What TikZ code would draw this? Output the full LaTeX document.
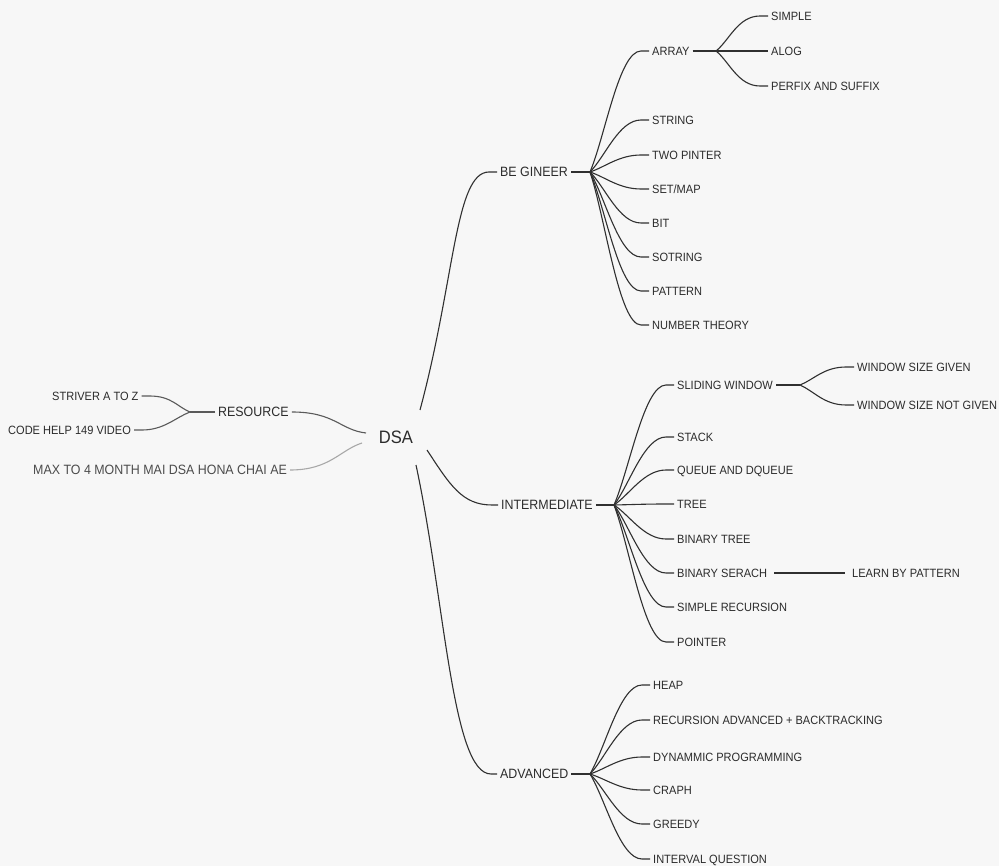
\documentclass[tikz,border=0pt]{standalone}
\usepackage{fontspec}
\setmainfont{Liberation Sans}[FakeStretch=0.92]
\usetikzlibrary{calc}
\definecolor{ink}{HTML}{2B2B2B}
\definecolor{lineink}{HTML}{303030}
\definecolor{softink}{HTML}{5A5A5A}
\definecolor{paleink}{HTML}{A8A8A8}
\definecolor{bg}{HTML}{F7F7F7}
\newcommand\fanline[2]{\draw[conn] (#1) .. controls ($(#1)!0.3!([xshift=-8pt]#2.west)$) and ([xshift=-30pt]#2.west) .. ([xshift=-8pt]#2.west) -- (#2.west);}
\newcommand\fanleft[2]{\draw[conn,draw=softink] (#1) .. controls ($(#1)!0.3!([xshift=8pt]#2.east)$) and ([xshift=30pt]#2.east) .. ([xshift=8pt]#2.east) -- (#2.east);}
\begin{document}
\begin{tikzpicture}[x=1pt,y=-1pt,
  lbl/.style={font=\fontsize{12}{12}\selectfont, text=ink, anchor=west, inner xsep=3pt, inner ysep=1pt, text height=8.6pt, text depth=0pt},
  lone/.style={lbl, font=\fontsize{13.5}{13.5}\selectfont, text height=9.7pt},
  conn/.style={draw=lineink, line width=1.1pt}]
\useasboundingbox[fill=bg] (0,0) rectangle (999,866);

% centre
\node[font=\fontsize{18}{18}\selectfont, text=ink, inner sep=2pt] (dsa) at (396,437) {DSA};
\coordinate (d1) at (420,410);
\coordinate (d2) at (427,450);
\coordinate (d3) at (416,465);
\coordinate (d4) at (366,433);
\coordinate (d5) at (362,443);

% level 1
\node[lone] (beg) at (497,172) {BE GINEER};
\node[lone] (int) at (498,505) {INTERMEDIATE};
\node[lone] (adv) at (497,774) {ADVANCED};
\node[lone] (res) at (215,412) {RESOURCE};
\node[lone, text=ink!85] (max) at (30,470) {MAX TO 4 MONTH MAI DSA HONA CHAI AE};

\draw[conn] (d1) .. controls (455,280) and (455,172) .. ([xshift=-8pt]beg.west) -- (beg.west);
\draw[conn] (d2) .. controls (450,485) and (462,505) .. ([xshift=-6pt]int.west) -- (int.west);
\draw[conn] (d3) .. controls (445,600) and (452,774) .. ([xshift=-6pt]adv.west) -- (adv.west);
\draw[conn,draw=softink] (res.east) .. controls (335,412) and (340,430) .. (d4);
\draw[conn,draw=paleink] (max.east) .. controls (330,470) and (340,450) .. (d5);

% resource
\node[lbl] (str) at (49,396) {STRIVER A TO Z};
\node[lbl] (code) at (5,430) {CODE HELP 149 VIDEO};
\coordinate (rj) at (190,412);
\draw[conn,draw=softink] (res.west) -- (rj);
\fanleft{rj}{str}
\fanleft{rj}{code}

% beginner
\coordinate (bj) at (590,172);
\draw[conn] (beg.east) -- (bj);
\node[lbl] (arr) at (649,51) {ARRAY};
\node[lbl] (strg) at (649,120) {STRING};
\node[lbl] (two) at (649,155) {TWO PINTER};
\node[lbl] (setm) at (649,189) {SET/MAP};
\node[lbl] (bit) at (649,223) {BIT};
\node[lbl] (sot) at (649,257) {SOTRING};
\node[lbl] (pat) at (649,291) {PATTERN};
\node[lbl] (num) at (649,325) {NUMBER THEORY};
\foreach \c in {arr,strg,two,setm,bit,sot,pat,num} {\fanline{bj}{\c}}

% array
\coordinate (aj) at (716,51);
\draw[conn] (arr.east) -- (aj);
\node[lbl] (simp) at (768,16) {SIMPLE};
\node[lbl] (alog) at (768,51) {ALOG};
\node[lbl] (perf) at (768,86) {PERFIX AND SUFFIX};
\foreach \c in {simp,alog,perf} {\fanline{aj}{\c}}

% intermediate
\coordinate (ij) at (614,505);
\draw[conn] (int.east) -- (ij);
\node[lbl] (slid) at (674,385) {SLIDING WINDOW};
\node[lbl] (stack) at (674,437) {STACK};
\node[lbl] (queue) at (674,470) {QUEUE AND DQUEUE};
\node[lbl] (tree) at (674,504) {TREE};
\node[lbl] (btree) at (674,539) {BINARY TREE};
\node[lbl] (bsr) at (674,573) {BINARY SERACH};
\node[lbl] (srec) at (674,607) {SIMPLE RECURSION};
\node[lbl] (ptr) at (674,642) {POINTER};
\foreach \c in {slid,stack,queue,tree,btree,bsr,srec,ptr} {\fanline{ij}{\c}}

% sliding window
\coordinate (sj) at (800,385);
\draw[conn] (slid.east) -- (sj);
\node[lbl] (wsg) at (854,367) {WINDOW SIZE GIVEN};
\node[lbl] (wsng) at (854,405) {WINDOW SIZE NOT GIVEN};
\foreach \c in {wsg,wsng} {\fanline{sj}{\c}}

% binary search
\node[lbl] (learn) at (849,573) {LEARN BY PATTERN};
\draw[conn] ([xshift=4pt]bsr.east) -- ([xshift=-4pt]learn.west);

% advanced
\coordinate (vj) at (590,774);
\draw[conn] (adv.east) -- (vj);
\node[lbl] (heap) at (650,685) {HEAP};
\node[lbl] (recb) at (650,720) {RECURSION ADVANCED + BACKTRACKING};
\node[lbl] (dp) at (650,757) {DYNAMMIC PROGRAMMING};
\node[lbl] (graph) at (650,790) {CRAPH};
\node[lbl] (greedy) at (650,824) {GREEDY};
\node[lbl] (intv) at (650,859) {INTERVAL QUESTION};
\foreach \c in {heap,recb,dp,graph,greedy,intv} {\fanline{vj}{\c}}
\end{tikzpicture}
\end{document}
